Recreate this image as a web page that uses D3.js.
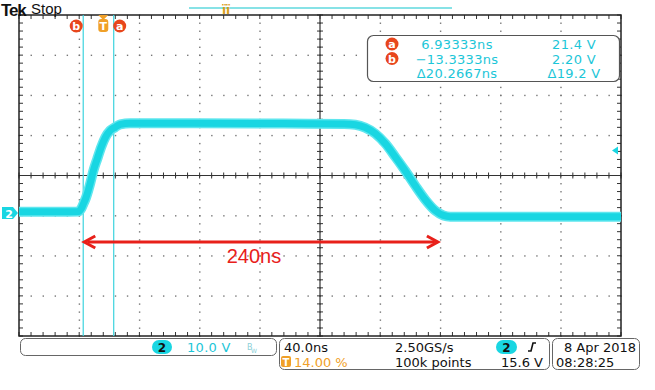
<!DOCTYPE html>
<html><head><meta charset="utf-8">
<script src="https://cdn.jsdelivr.net/npm/d3@7"></script>
<style>
html,body{margin:0;padding:0;background:#fff;}
svg{display:block;font-family:"DejaVu Sans",sans-serif;}
</style></head>
<body>
<svg id="c" width="655" height="390"></svg>
<script>
// ---- data ----
const timeNs = [-56, -30, -16.6, -14.5, -13.3, -11.5, -10, -8.6, -6.6, -4, -1.3, 1.3, 4.7, 8, 11.3, 18, 60, 120, 160, 167.5, 174, 180.7, 187.4, 194, 200.7, 207.3, 214, 220.6, 226, 230.6, 280, 344];
const volts  = [0.3, 0.3, 0.4, 1.2, 2.2, 3.8, 5.6, 7.5, 10.5, 13.5, 16.5, 18.8, 20.6, 21.4, 22.1, 22.4, 22.4, 22.3, 22.2, 22.0, 21.3, 19.8, 17.3, 14.0, 10.5, 6.8, 3.3, 0.6, -0.6, -0.9, -0.9, -0.9];
const timeDomain = [-56, 344];      // 40 ns/div, trigger at 14 %
const voltDomain = [-30.65, 49.35]; // 10 V/div, ground marker
const cursorTimes = [-13.3333, 6.93333];
const cursorLabels = ["b", "a"];
const triggerLevel = 15.6;
const spanStart = -13.3, spanEnd = 223;
const spanLabel = "240ns";
const readoutLabels = ["a", "b", ""];
const readoutTimes = ["6.93333ns", "\u221213.3333ns", "\u039420.2667ns"];
const readoutVolts = ["21.4 V", "2.20 V", "\u039419.2 V"];

const svg = d3.select("#c");
const L = 19, R = 621, T = 15, B = 336;
const x = d3.scaleLinear().domain(timeDomain).range([L, R]);
const y = d3.scaleLinear().domain(voltDomain).range([B, T]);

const cyan = "#19d6e2", orange = "#f0a028", red = "#e8461c";

// grid dots
const g = svg.append("g");
const xDivs = d3.range(0, 11).map(i => timeDomain[0] + i * 40);
const yDivs = d3.range(0, 9).map(i => voltDomain[0] + i * 10);
const xMinor = d3.range(0, 51).map(i => timeDomain[0] + i * 8);
const yMinor = d3.range(0, 41).map(i => voltDomain[0] + i * 2);
xDivs.slice(1, -1).forEach(t => {
  yMinor.forEach(v => g.append("rect").attr("x", x(t) - 0.5).attr("y", y(v) - 0.5).attr("width", 1.4).attr("height", 1.4).attr("fill", "#777"));
});
yDivs.slice(1, -1).forEach(v => {
  xMinor.forEach(t => g.append("rect").attr("x", x(t) - 0.5).attr("y", y(v) - 0.5).attr("width", 1.4).attr("height", 1.4).attr("fill", "#777"));
});
// center cross
const cx = x(timeDomain[0] + 200), cy = y(voltDomain[0] + 40);
g.append("line").attr("x1", L).attr("x2", R).attr("y1", cy).attr("y2", cy).attr("stroke", "#333").attr("stroke-width", 1.2);
g.append("line").attr("x1", cx).attr("x2", cx).attr("y1", T).attr("y2", B).attr("stroke", "#333").attr("stroke-width", 1.2);
xMinor.forEach(t => {
  g.append("line").attr("x1", x(t)).attr("x2", x(t)).attr("y1", cy - 3).attr("y2", cy + 3).attr("stroke", "#333");
  g.append("line").attr("x1", x(t)).attr("x2", x(t)).attr("y1", T).attr("y2", T + 4).attr("stroke", "#333");
  g.append("line").attr("x1", x(t)).attr("x2", x(t)).attr("y1", B - 4).attr("y2", B).attr("stroke", "#333");
});
yMinor.forEach(v => {
  g.append("line").attr("x1", cx - 3).attr("x2", cx + 3).attr("y1", y(v)).attr("y2", y(v)).attr("stroke", "#333");
  g.append("line").attr("x1", L).attr("x2", L + 4).attr("y1", y(v)).attr("y2", y(v)).attr("stroke", "#333");
  g.append("line").attr("x1", R - 4).attr("x2", R).attr("y1", y(v)).attr("y2", y(v)).attr("stroke", "#333");
});
g.append("rect").attr("x", L).attr("y", T).attr("width", R - L).attr("height", B - T).attr("fill", "none").attr("stroke", "#222").attr("stroke-width", 1.5);

// cursors
cursorTimes.forEach(t => {
  svg.append("line").attr("x1", x(t)).attr("x2", x(t)).attr("y1", T).attr("y2", B).attr("stroke", "#3cd3de").attr("stroke-width", 1.2);
});

// trace
const line = d3.line().x((d, i) => x(timeNs[i])).y(d => y(d)).curve(d3.curveMonotoneX);
svg.append("path").attr("d", line(volts)).attr("fill", "none").attr("stroke", "#5fe6ee").attr("stroke-width", 10).attr("stroke-linejoin", "round");
svg.append("path").attr("d", line(volts)).attr("fill", "none").attr("stroke", cyan).attr("stroke-width", 7).attr("stroke-linejoin", "round");

// cursor badges
cursorTimes.forEach((t, i) => {
  const bx = i === 0 ? x(t) - 7 : x(t) + 6;
  svg.append("circle").attr("cx", bx).attr("cy", 26).attr("r", 6.5).attr("fill", red);
  svg.append("text").attr("x", bx).attr("y", 30).attr("text-anchor", "middle").attr("fill", "#fff").attr("font-size", 11).attr("font-weight", "bold").text(cursorLabels[i]);
});
// trigger T marker
const tx = x(0);
svg.append("path").attr("d", `M${tx - 5},${T} L${tx + 5},${T} L${tx},${T + 5} Z`).attr("fill", orange);
svg.append("rect").attr("x", tx - 5).attr("y", T + 4).attr("width", 10).attr("height", 13).attr("rx", 3).attr("fill", orange);
svg.append("text").attr("x", tx).attr("y", T + 15).attr("text-anchor", "middle").attr("fill", "#fff").attr("font-size", 11).attr("font-weight", "bold").text("T");

// channel 2 ground marker
const gy = y(0);
svg.append("path").attr("d", `M2,${gy - 6} L13,${gy - 6} L18,${gy} L13,${gy + 6} L2,${gy + 6} Z`).attr("fill", cyan);
svg.append("text").attr("x", 9).attr("y", gy + 4.5).attr("text-anchor", "middle").attr("fill", "#fff").attr("font-size", 11).attr("font-weight", "bold").text("2");
// trigger level marker
const ty = y(triggerLevel);
svg.append("path").attr("d", `M${R - 3},${ty - 4} L${R - 3},${ty + 4} L${R - 9},${ty} Z`).attr("fill", cyan);

// top bar
svg.append("text").attr("x", 1).attr("y", 16).attr("font-family", "Liberation Sans, sans-serif").attr("font-weight", "bold").attr("font-size", 17).attr("fill", "#111").attr("letter-spacing", -1.2).text("Tek");
svg.append("text").attr("x", 31).attr("y", 14).attr("font-family", "Liberation Sans, sans-serif").attr("font-size", 15).attr("fill", "#111").text("Stop");
svg.append("line").attr("x1", 189).attr("x2", 452).attr("y1", 8).attr("y2", 8).attr("stroke", "#5fd8de").attr("stroke-width", 1.5);
svg.append("text").attr("x", 226).attr("y", 14).attr("text-anchor", "middle").attr("font-size", 12).attr("font-weight", "bold").attr("fill", "#d9a020").text("ïï");

// readout box
svg.append("rect").attr("x", 367.5).attr("y", 35.5).attr("width", 252).attr("height", 46).attr("rx", 6).attr("fill", "#fff").attr("stroke", "#555").attr("stroke-width", 1.2);
const rowY = [44, 58.5, 73];
rowY.forEach((ry, i) => {
  if (readoutLabels[i]) {
    svg.append("circle").attr("cx", 392).attr("cy", ry).attr("r", 6.5).attr("fill", red);
    svg.append("text").attr("x", 392).attr("y", ry + 4).attr("text-anchor", "middle").attr("fill", "#fff").attr("font-size", 11).attr("font-weight", "bold").text(readoutLabels[i]);
  }
  svg.append("text").attr("x", 457).attr("y", ry + 5).attr("text-anchor", "middle").attr("fill", "#1cc6d8").attr("font-size", 13).attr("letter-spacing", 0.3).text(readoutTimes[i]);
  svg.append("text").attr("x", 574).attr("y", ry + 5).attr("text-anchor", "middle").attr("fill", "#1cc6d8").attr("font-size", 13).attr("letter-spacing", 0.3).text(readoutVolts[i]);
});

// 240ns span arrow
const ay = 242;
const ax1 = x(spanStart), ax2 = x(spanEnd);
svg.append("line").attr("x1", ax1 + 4).attr("x2", ax2 - 4).attr("y1", ay).attr("y2", ay).attr("stroke", "#e8201a").attr("stroke-width", 3);
svg.append("path").attr("d", `M${ax1 + 12},${ay - 6} L${ax1 + 1},${ay} L${ax1 + 12},${ay + 6}`).attr("fill", "none").attr("stroke", "#e8201a").attr("stroke-width", 3);
svg.append("path").attr("d", `M${ax2 - 12},${ay - 6} L${ax2 - 1},${ay} L${ax2 - 12},${ay + 6}`).attr("fill", "none").attr("stroke", "#e8201a").attr("stroke-width", 3);
svg.append("text").attr("x", 254).attr("y", 263).attr("text-anchor", "middle").attr("font-family", "Liberation Sans, sans-serif").attr("font-size", 20).attr("fill", "#e8201a").text(spanLabel);

// bottom status boxes
const sb = svg.append("g").attr("font-size", 13);
sb.append("rect").attr("x", 20.5).attr("y", 338.5).attr("width", 256).attr("height", 17).attr("rx", 5).attr("fill", "#fff").attr("stroke", "#666");
sb.append("rect").attr("x", 152).attr("y", 340).attr("width", 20).attr("height", 14).attr("rx", 7).attr("fill", cyan);
sb.append("text").attr("x", 162).attr("y", 352).attr("text-anchor", "middle").attr("font-weight", "bold").attr("font-size", 12).attr("fill", "#111").text("2");
sb.append("text").attr("x", 187).attr("y", 352).attr("fill", "#1cc6d8").attr("letter-spacing", 0.3).text("10.0 V");
sb.append("text").attr("x", 247).attr("y", 350).attr("fill", "#8ccfd8").attr("font-size", 8).text("B");
sb.append("text").attr("x", 251).attr("y", 353).attr("fill", "#8ccfd8").attr("font-size", 6).text("W");

sb.append("rect").attr("x", 279.5).attr("y", 338.5).attr("width", 270).attr("height", 31).attr("rx", 5).attr("fill", "#fff").attr("stroke", "#666");
sb.append("text").attr("x", 284).attr("y", 352).attr("fill", "#111").text("40.0ns");
sb.append("rect").attr("x", 281).attr("y", 356).attr("width", 10).attr("height", 11).attr("rx", 2).attr("fill", orange);
sb.append("text").attr("x", 286).attr("y", 365.5).attr("text-anchor", "middle").attr("font-size", 10).attr("font-weight", "bold").attr("fill", "#fff").text("T");
sb.append("text").attr("x", 294).attr("y", 367).attr("fill", orange).text("14.00 %");
sb.append("text").attr("x", 395).attr("y", 352).attr("fill", "#111").text("2.50GS/s");
sb.append("text").attr("x", 395).attr("y", 367).attr("fill", "#111").text("100k points");
sb.append("rect").attr("x", 496).attr("y", 340).attr("width", 21).attr("height", 14).attr("rx", 7).attr("fill", cyan);
sb.append("text").attr("x", 506.5).attr("y", 352).attr("text-anchor", "middle").attr("font-weight", "bold").attr("font-size", 12).attr("fill", "#111").text("2");
sb.append("path").attr("d", "M528,351 L531,351 L533,343 L536,343").attr("fill", "none").attr("stroke", "#111").attr("stroke-width", 1.6);
sb.append("text").attr("x", 543).attr("y", 367).attr("text-anchor", "end").attr("fill", "#111").text("15.6 V");

sb.append("rect").attr("x", 552.5).attr("y", 338.5).attr("width", 87).attr("height", 31).attr("rx", 5).attr("fill", "#fff").attr("stroke", "#666");
sb.append("text").attr("x", 636).attr("y", 352).attr("text-anchor", "end").attr("fill", "#111").text("8 Apr  2018");
sb.append("text").attr("x", 556).attr("y", 367).attr("fill", "#111").text("08:28:25");
</script>
</body></html>
